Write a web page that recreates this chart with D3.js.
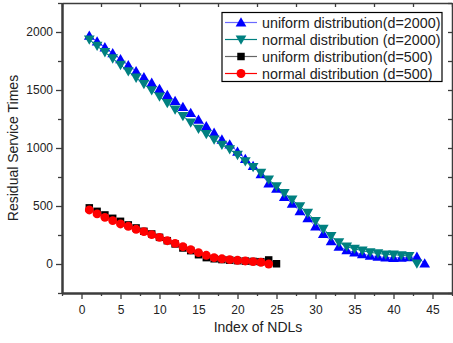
<!DOCTYPE html>
<html>
<head>
<meta charset="utf-8">
<script src="https://cdn.jsdelivr.net/npm/d3@7"></script>
<style>
  body { margin: 0; background: #fff; }
  svg { display: block; font-family: "Liberation Sans", Arial, sans-serif; }
</style>
</head>
<body>
<div id="chart"></div>
<script>
// series data
var uniform2000 = [1968, 1918, 1868, 1818, 1765, 1714, 1662, 1611, 1562, 1510,
  1458, 1405, 1354, 1303, 1245, 1188, 1131, 1073, 1030, 968,
  905, 845, 775, 695, 650, 578, 520, 455, 395, 325,
  260, 197, 150, 120, 100, 86, 72, 63, 57, 52,
  55, 58, 62, 5];
var normal2000 = [1935, 1880, 1826, 1772, 1716, 1661, 1606, 1551, 1498, 1443,
  1387, 1332, 1276, 1220, 1166, 1120, 1073, 1028, 988, 940,
  885, 835, 785, 728, 670, 612, 555, 497, 440, 370,
  302, 240, 187, 150, 130, 115, 100, 92, 82, 80,
  75, 68, 3];
var uniform500 = [484, 454, 423, 394, 368, 337, 311, 282, 259, 230,
  201, 173, 138, 115, 80, 55, 45, 38, 33, 29,
  25, 22, 20, 35, 2];
var normal500 = [466, 432, 402, 374, 345, 325, 299, 279, 253, 230,
  201, 178, 149, 123, 98, 75, 55, 45, 38, 32,
  26, 20, 15, 0];

var seriesNames = ["uniform distribution(d=2000)", "normal distribution (d=2000)",
  "uniform distribution(d=500)", "normal distribution (d=500)"];
var xTicks = [0, 5, 10, 15, 20, 25, 30, 35, 40, 45];
var yTicks = [0, 500, 1000, 1500, 2000];

var W = 453, H = 343;
var pLeft = 62, pRight = 452, pTop = 3, pBottom = 293;
var axisColor = "#3c3c3c";

var svg = d3.select("#chart").append("svg")
  .attr("width", W).attr("height", H);

var x = d3.scaleLinear().domain([-2.5, 47.5]).range([pLeft, pRight]);
var y = d3.scaleLinear().domain([-250, 2250]).range([pBottom, pTop]);

var series = [
  { name: seriesNames[0], values: uniform2000, color: "#0000ff", line: "#6a6aff", shape: "up" },
  { name: seriesNames[1], values: normal2000, color: "#008080", line: "#008080", shape: "down" },
  { name: seriesNames[2], values: uniform500, color: "#000000", line: "#666666", shape: "square" },
  { name: seriesNames[3], values: normal500, color: "#ff0000", line: "#ff0000", shape: "circle" }
];

function symbolPath(shape) {
  if (shape == "up" || shape == "down") return d3.symbol().type(d3.symbolTriangle).size(50)();
  if (shape == "square") return d3.symbol().type(d3.symbolSquare).size(56)();
  return d3.symbol().type(d3.symbolCircle).size(62)();
}
function symbolTransform(shape, px, py) {
  if (shape == "up") return "translate(" + px + "," + (py + 1) + ")";
  if (shape == "down") return "translate(" + px + "," + (py - 1) + ") rotate(180)";
  return "translate(" + px + "," + py + ")";
}

// lines + markers
var plot = svg.append("g");
series.forEach(function(s) {
  var pts = s.values.map(function(v, i) { return [i + 1, v]; });
  plot.append("path")
    .datum(pts)
    .attr("fill", "none")
    .attr("stroke", s.line)
    .attr("stroke-width", 1)
    .attr("d", d3.line().x(function(d) { return x(d[0]); }).y(function(d) { return y(d[1]); }));
  plot.selectAll(null)
    .data(pts)
    .enter()
    .append("path")
    .attr("d", symbolPath(s.shape))
    .attr("transform", function(d) { return symbolTransform(s.shape, x(d[0]), y(d[1])); })
    .attr("fill", s.color);
});

// frame axes
function styleAxis(g, w) {
  g.select(".domain").attr("stroke", axisColor).attr("stroke-width", w);
  g.selectAll(".tick line").attr("stroke", axisColor).attr("stroke-width", 1.3);
  g.selectAll(".tick text").attr("fill", "#222").style("font-size", "12px")
    .style("font-family", "'Liberation Sans', Arial, sans-serif");
}

var xMinor = d3.range(-2.5, 47.6, 2.5).filter(function(v) { return v % 5 != 0; });
var yMinor = d3.range(-250, 2251, 250).filter(function(v) { return v % 500 != 0; });

// top
var gt = svg.append("g").attr("transform", "translate(0," + pTop + ")")
  .call(d3.axisTop(x).tickValues(xMinor).tickSize(-4).tickSizeOuter(0).tickFormat(""));
styleAxis(gt, 1.5);
// right
var gr = svg.append("g").attr("transform", "translate(" + pRight + ",0)")
  .call(d3.axisRight(y).tickValues(yMinor.concat(yTicks)).tickSize(-4).tickSizeOuter(0).tickFormat(""));
styleAxis(gr, 1.5);

// bottom
var gbm = svg.append("g").attr("transform", "translate(0," + pBottom + ")")
  .call(d3.axisBottom(x).tickValues(xMinor).tickSize(3).tickSizeOuter(0).tickFormat(""));
styleAxis(gbm, 2);
var gb = svg.append("g").attr("transform", "translate(0," + pBottom + ")")
  .call(d3.axisBottom(x).tickValues(xTicks).tickSize(6).tickSizeOuter(0).tickPadding(6).tickFormat(d3.format("d")));
styleAxis(gb, 2);

// left
var glm = svg.append("g").attr("transform", "translate(" + pLeft + ",0)")
  .call(d3.axisLeft(y).tickValues(yMinor).tickSize(4).tickSizeOuter(0).tickFormat(""));
styleAxis(glm, 2);
var gl = svg.append("g").attr("transform", "translate(" + pLeft + ",0)")
  .call(d3.axisLeft(y).tickValues(yTicks).tickSize(6).tickSizeOuter(0).tickPadding(3).tickFormat(d3.format("d")));
styleAxis(gl, 2);

// axis titles
svg.append("text")
  .attr("x", (pLeft + pRight) / 2 + 1)
  .attr("y", 332)
  .attr("text-anchor", "middle")
  .style("font-size", "14px")
  .attr("fill", "#222")
  .text("Index of NDLs");

svg.append("text")
  .attr("transform", "translate(18," + 148 + ") rotate(-90)")
  .attr("text-anchor", "middle")
  .style("font-size", "14px")
  .attr("fill", "#222")
  .text("Residual Service Times");

// legend
var lg = svg.append("g").attr("transform", "translate(222,12.5)");
lg.append("rect")
  .attr("width", 220).attr("height", 69)
  .attr("fill", "#fff")
  .attr("stroke", "#000")
  .attr("stroke-width", 1.2);

var rows = lg.selectAll("g.row")
  .data(series)
  .enter()
  .append("g")
  .attr("class", "row")
  .attr("transform", function(d, i) { return "translate(0," + (10 + i * 17) + ")"; });

rows.append("line")
  .attr("x1", 3).attr("x2", 35)
  .attr("stroke", function(d) { return d.line; })
  .attr("stroke-width", 1.2);
rows.append("path")
  .attr("d", function(d) { return symbolPath(d.shape); })
  .attr("transform", function(d) { return symbolTransform(d.shape, 19, 0); })
  .attr("fill", function(d) { return d.color; });
rows.append("text")
  .attr("x", 40)
  .attr("y", 5)
  .style("font-size", "14.3px")
  .attr("fill", "#222")
  .text(function(d) { return d.name; });
</script>
</body>
</html>
